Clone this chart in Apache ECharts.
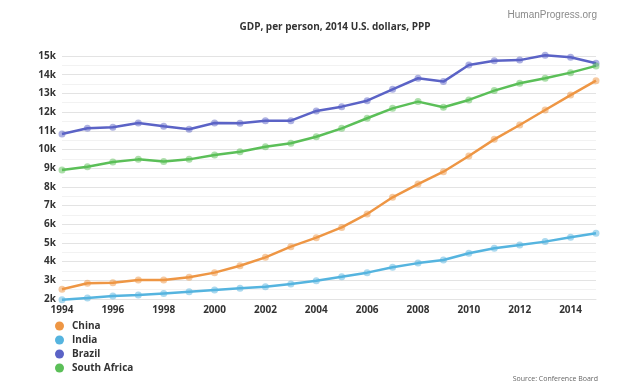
<!DOCTYPE html>
<html>
<head>
<meta charset="utf-8">
<script src="https://cdn.jsdelivr.net/npm/echarts@6/dist/echarts.min.js"></script>
<style>
html,body{margin:0;padding:0;background:#fff;}
#c{width:624px;height:386px;}
</style>
</head>
<body>
<div id="c"></div>
<script>
var years = ['1994','1995','1996','1997','1998','1999','2000','2001','2002','2003','2004','2005','2006','2007','2008','2009','2010','2011','2012','2013','2014','2015'];
var china = [2520,2840,2870,3020,3020,3160,3410,3780,4230,4800,5280,5830,6550,7440,8150,8810,9650,10540,11310,12110,12910,13680];
var india = [1960,2050,2160,2210,2300,2390,2480,2570,2660,2800,2980,3190,3410,3700,3920,4090,4450,4710,4890,5070,5300,5520];
var brazil = [10830,11130,11190,11420,11240,11080,11420,11400,11540,11540,12060,12290,12610,13220,13810,13630,14520,14750,14780,15040,14930,14610];
var southAfrica = [8900,9080,9330,9470,9350,9470,9700,9880,10150,10330,10680,11130,11670,12200,12560,12260,12650,13150,13540,13810,14110,14470];
var seriesNames = ['China','India','Brazil','South Africa'];
var colors = ['#ee9644','#55b4df','#5b63c6','#5bbf58'];

var chart = echarts.init(document.getElementById('c'));
var dataSets = [china, india, brazil, southAfrica];
var series = dataSets.map(function(d, i){
  return {
    name: seriesNames[i],
    type: 'line',
    data: d,
    clip: false,
    symbol: 'circle',
    symbolSize: 7,
    lineStyle: {width: 2.5, color: colors[i]},
    itemStyle: {color: colors[i], opacity: 0.5},
    emphasis: {disabled: true}
  };
});
chart.setOption({
  animation: false,
  color: colors,
  title: [
    {text: 'GDP, per person, 2014 U.S. dollars, PPP', left: 330, top: 17, textAlign: 'center',
     textStyle: {fontFamily: 'Open Sans', fontWeight: 'bold', fontSize: 10, color: '#333'}},
    {text: 'HumanProgress.org', right: 22, top: 5,
     textStyle: {fontFamily: 'Liberation Sans', fontWeight: 'normal', fontSize: 10, color: '#8a8a8a'}},
    {text: 'Source: Conference Board', right: 21, top: 370,
     textStyle: {fontFamily: 'Open Sans', fontWeight: 'normal', fontSize: 7, color: '#666'}}
  ],
  legend: {
    orient: 'vertical', left: 50, top: 316, itemGap: 4, itemWidth: 9, itemHeight: 9,
    icon: 'circle',
    itemStyle: {opacity: 1},
    textStyle: {fontFamily: 'Open Sans', fontWeight: 'bold', fontSize: 10, color: '#333', padding: [0,0,0,3]},
    data: seriesNames
  },
  grid: {left: 62, right: 28, top: 56, bottom: 87},
  xAxis: {
    type: 'category', data: years, boundaryGap: false,
    axisLine: {show: true, lineStyle: {color: '#e3e3e3'}},
    axisTick: {show: false},
    axisLabel: {interval: 1, margin: 6, fontFamily: 'Open Sans', fontWeight: 'bold', fontSize: 10, color: '#333'}
  },
  yAxis: {
    type: 'value', min: 2000, max: 15000, interval: 1000,
    axisLine: {show: false}, axisTick: {show: false},
    axisLabel: {margin: 6, fontFamily: 'Open Sans', fontWeight: 'bold', fontSize: 10, color: '#333',
      formatter: function(v){ return (v/1000) + 'k'; }},
    splitLine: {lineStyle: {color: '#e3e3e3', width: 1}},
    minorTick: {show: false, splitNumber: 2},
    minorSplitLine: {show: true, lineStyle: {color: '#f2f2f2', width: 1}}
  },
  series: series
});
</script>
</body>
</html>
